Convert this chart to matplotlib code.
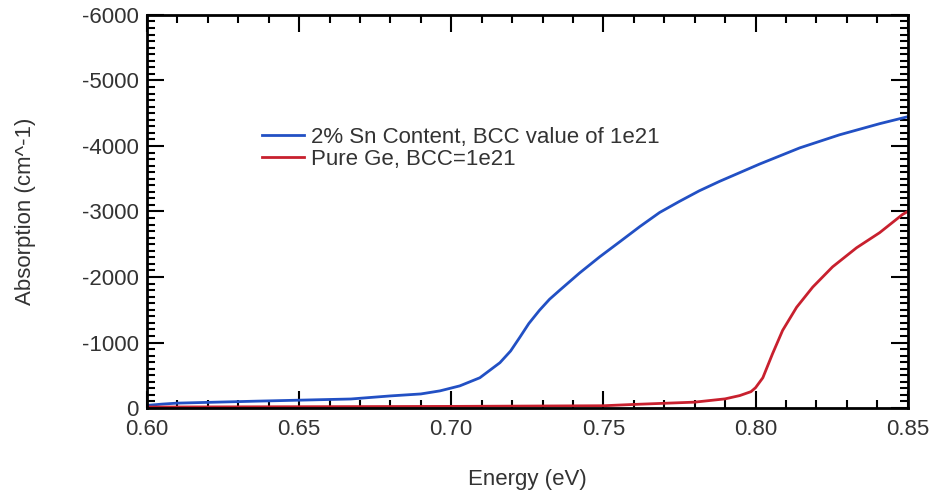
import matplotlib
matplotlib.use("Agg")
import matplotlib.pyplot as plt
from matplotlib.ticker import MultipleLocator

plt.rcParams['font.family'] = ['Liberation Sans', 'DejaVu Sans']

# 2% Sn content curve
energy_sn = [0.600, 0.605, 0.610, 0.636, 0.650, 0.667, 0.680, 0.690, 0.6963,
             0.7028, 0.7094, 0.716, 0.7195, 0.7225, 0.7255, 0.729, 0.7323,
             0.7357, 0.7422, 0.7488, 0.7554, 0.762, 0.7685, 0.775, 0.7815,
             0.7882, 0.8013, 0.8145, 0.8276, 0.8408, 0.850]
absorb_sn = [-40, -60, -75, -105, -120, -138, -185, -215, -262,
             -338, -462, -692, -870, -1077, -1290, -1492, -1660,
             -1800, -2062, -2308, -2538, -2770, -2985, -3154, -3315,
             -3460, -3723, -3970, -4170, -4340, -4446]

# pure Ge curve
energy_ge = [0.600, 0.650, 0.700, 0.750, 0.760, 0.780, 0.790, 0.7948, 0.7985,
             0.800, 0.8024, 0.8056, 0.8089, 0.8135, 0.8188, 0.8253, 0.8332,
             0.8408, 0.8483, 0.850]
absorb_ge = [-15, -20, -25, -35, -55, -90, -140, -190, -250,
             -310, -462, -830, -1185, -1538, -1846, -2154, -2446,
             -2677, -2954, -3000]

labels = ['2% Sn Content, BCC value of 1e21', 'Pure Ge, BCC=1e21']
colors = ['#2250c4', '#c8202e']
text_color = '#333333'

fig = plt.figure(figsize=(9.3, 4.97), dpi=100)
ax = fig.add_axes([0.158, 0.179, 0.818, 0.791])

ax.plot(energy_sn, absorb_sn, color=colors[0], lw=2, label=labels[0])
ax.plot(energy_ge, absorb_ge, color=colors[1], lw=2, label=labels[1])

ax.set_xlim(0.60, 0.85)
ax.set_ylim(0, -6000)
ax.xaxis.set_major_locator(MultipleLocator(0.05))
ax.xaxis.set_minor_locator(MultipleLocator(0.01))
ax.yaxis.set_major_locator(MultipleLocator(1000))
ax.yaxis.set_minor_locator(MultipleLocator(100))
ax.xaxis.set_major_formatter(plt.FormatStrFormatter('%.2f'))
ax.yaxis.set_major_formatter(plt.FormatStrFormatter('%d'))

ax.tick_params(which='both', direction='in', top=True, right=True,
               width=1.5, color='black', labelsize=16, labelcolor=text_color)
ax.tick_params(which='major', length=12)
ax.tick_params(which='minor', length=6)
ax.tick_params(axis='x', pad=8)
ax.tick_params(axis='y', pad=6)
for sp in ax.spines.values():
    sp.set_linewidth(2)

ax.set_xlabel('Energy (eV)', fontsize=16, color=text_color, labelpad=21)
ax.set_ylabel('Absorption (cm^-1)', fontsize=16, color=text_color, labelpad=33)

ax.legend(loc='center left', bbox_to_anchor=(0.151, 0.66), frameon=False,
          fontsize=16, handlelength=1.9, handletextpad=0.3, labelspacing=0.05,
          borderpad=0, borderaxespad=0, labelcolor=text_color)

fig.savefig('out.png', dpi=100)
